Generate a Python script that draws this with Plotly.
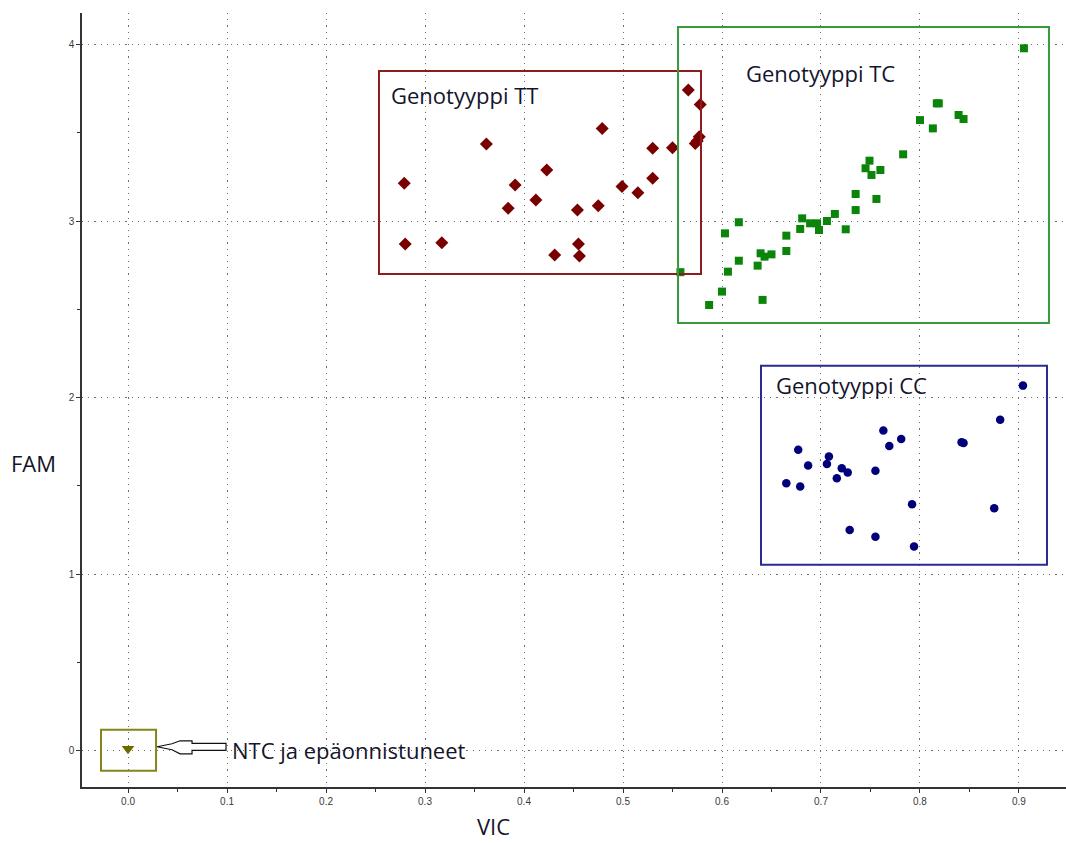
import plotly.graph_objects as go

# ---- data (VIC, FAM) ----
tt_vic = [0.279, 0.280, 0.317, 0.362, 0.384, 0.391, 0.412, 0.423, 0.431, 0.454, 0.455, 0.456,
          0.475, 0.479, 0.499, 0.515, 0.530, 0.530, 0.550, 0.566, 0.578, 0.573, 0.577, 0.575]
tt_fam = [3.215, 2.871, 2.878, 3.437, 3.073, 3.205, 3.120, 3.290, 2.808, 3.063, 2.871, 2.803,
          3.088, 3.526, 3.196, 3.161, 3.243, 3.413, 3.416, 3.743, 3.662, 3.441, 3.479, 3.455]

tc_vic = [0.905, 0.817, 0.819, 0.800, 0.813, 0.839, 0.844, 0.783, 0.749, 0.745, 0.760, 0.751,
          0.756, 0.735, 0.735, 0.714, 0.725, 0.706, 0.698, 0.696, 0.689, 0.681, 0.679, 0.665,
          0.665, 0.650, 0.643, 0.639, 0.636, 0.641, 0.617, 0.603, 0.617, 0.606, 0.600, 0.587, 0.558]
tc_fam = [3.980, 3.668, 3.668, 3.573, 3.526, 3.602, 3.579, 3.379, 3.343, 3.300, 3.290, 3.262,
          3.126, 3.154, 3.063, 3.041, 2.954, 3.001, 2.950, 2.988, 2.988, 3.016, 2.956, 2.918,
          2.831, 2.812, 2.799, 2.818, 2.748, 2.554, 2.994, 2.931, 2.776, 2.714, 2.601, 2.525, 2.711]

cc_vic = [0.904, 0.881, 0.842, 0.844, 0.875, 0.763, 0.781, 0.769, 0.677, 0.708, 0.706, 0.687,
          0.721, 0.727, 0.755, 0.716, 0.665, 0.679, 0.792, 0.729, 0.755, 0.794]
cc_fam = [2.068, 1.874, 1.747, 1.743, 1.373, 1.813, 1.766, 1.726, 1.704, 1.666, 1.624, 1.615,
          1.600, 1.575, 1.585, 1.543, 1.515, 1.496, 1.396, 1.250, 1.212, 1.156]

ntc_vic = [0.0]
ntc_fam = [0.01]

x_ticks = [0.0, 0.1, 0.2, 0.3, 0.4, 0.5, 0.6, 0.7, 0.8, 0.9]
x_labels = ["0.0", "0.1", "0.2", "0.3", "0.4", "0.5", "0.6", "0.7", "0.8", "0.9"]
y_ticks = [0, 1, 2, 3, 4]
y_labels = ["0", "1", "2", "3", "4"]

label_font = dict(family="Open Sans", size=22, color="#14142a")

fig = go.Figure()
fig.add_trace(go.Scatter(x=tt_vic, y=tt_fam, mode="markers", name="TT",
                         marker=dict(symbol="diamond", size=10, color="#7a0000")))
fig.add_trace(go.Scatter(x=tc_vic, y=tc_fam, mode="markers", name="TC",
                         marker=dict(symbol="square", size=8, color="#0a850a")))
fig.add_trace(go.Scatter(x=cc_vic, y=cc_fam, mode="markers", name="CC",
                         marker=dict(symbol="circle", size=8.5, color="#00007a")))
fig.add_trace(go.Scatter(x=ntc_vic, y=ntc_fam, mode="markers", name="NTC",
                         marker=dict(symbol="triangle-down", size=11, color="#6b6b00")))

# group boxes
boxes = [
    (0.2535, 2.701, 0.5788, 3.851, "#8e1c1c"),
    (0.5556, 2.423, 0.9303, 4.100, "#36993a"),
    (0.6394, 1.052, 0.9283, 2.180, "#2a2a95"),
    (-0.0273, -0.115, 0.0283, 0.117, "#85851c"),
]
for x0, y0, x1, y1, c in boxes:
    fig.add_shape(type="rect", xref="x", yref="y", x0=x0, y0=y0, x1=x1, y1=y1,
                  line=dict(color=c, width=2), fillcolor="rgba(0,0,0,0)", layer="above")

# hollow arrow pointing to NTC box
def px_to_data(px, py):
    return (px - 128) / 990.0, (750.7 - py) / 176.5

arrow_pts = [(157, 747), (172, 744), (180, 741), (192, 741), (192, 743.5), (226, 743.5),
             (226, 750.5), (192, 750.5), (192, 754), (180, 754), (172, 750)]
pts = [px_to_data(a, b) for a, b in arrow_pts]
path = "M " + " L ".join(f"{a:.5f},{b:.5f}" for a, b in pts) + " Z"
fig.add_shape(type="path", xref="x", yref="y", path=path,
              line=dict(color="#111111", width=1.2), fillcolor="white", layer="above")

annots = [
    dict(x=0.2640, y=3.715, text="Genotyyppi TT"),
    dict(x=0.6225, y=3.840, text="Genotyyppi TC"),
    dict(x=0.6528, y=2.072, text="Genotyyppi CC"),
    dict(x=0.103, y=0.0, text="NTC ja epäonnistuneet"),
]
for a in annots:
    fig.add_annotation(x=a["x"], y=a["y"], xref="x", yref="y", text=a["text"],
                       showarrow=False, xanchor="left", yanchor="middle", font=label_font)

fig.add_annotation(x=-0.0488, y=0.4187, xref="paper", yref="paper", text="FAM",
                   showarrow=False, xanchor="center", yanchor="middle", font=label_font)
fig.add_annotation(x=0.4177, y=-0.0500, xref="paper", yref="paper", text="VIC",
                   showarrow=False, xanchor="center", yanchor="middle", font=label_font,
                   borderpad=0)

tick_font = dict(family="Liberation Sans", size=10, color="#3a3a3a")
grid = dict(showgrid=True, gridcolor="#6e6e6e", griddash="1.2px,5px", gridwidth=1.2)
fig.update_xaxes(range=[-0.0465, 0.9475], tickvals=x_ticks, ticktext=x_labels, **grid,
                 zeroline=False, showline=True, linecolor="#333333", linewidth=1.5,
                 ticks="outside", ticklen=4, tickcolor="#333333", tickfont=tick_font,
                 minor=dict(dtick=0.05, tick0=0, ticks="outside", ticklen=3,
                            tickcolor="#333333", showgrid=False))
fig.update_yaxes(range=[-0.207, 4.18], tickvals=y_ticks, ticktext=y_labels, **grid,
                 zeroline=False, showline=True, linecolor="#333333", linewidth=1.5,
                 ticks="outside", ticklen=4, tickcolor="#333333", tickfont=tick_font,
                 minor=dict(dtick=0.5, tick0=0, ticks="outside", ticklen=3,
                            tickcolor="#333333", showgrid=False))

fig.update_layout(width=1066, height=843, showlegend=False,
                  margin=dict(l=82, r=0, t=13, b=56),
                  paper_bgcolor="white", plot_bgcolor="white")

fig.write_html("out.html")
